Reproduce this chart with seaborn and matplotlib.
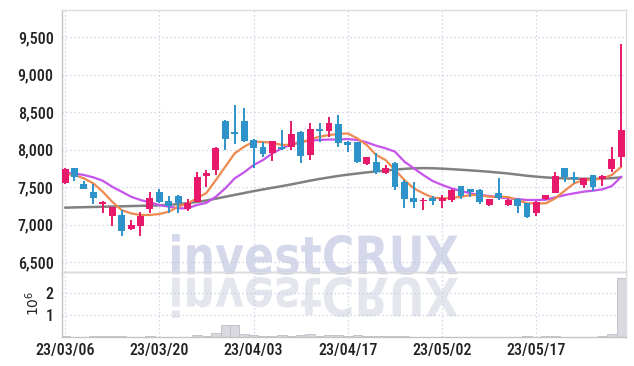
import numpy as np
import pandas as pd
import matplotlib
matplotlib.use("Agg")
import matplotlib.pyplot as plt
import seaborn as sns
import matplotlib.ticker as mticker
from matplotlib import font_manager
from matplotlib.textpath import TextPath
from matplotlib.patches import PathPatch
from matplotlib.font_manager import FontProperties
from matplotlib.transforms import Affine2D

# ---------------- data ----------------
dates = (list(pd.bdate_range("2023-03-06", "2023-05-31")
              .drop(pd.to_datetime(["2023-05-01", "2023-05-05", "2023-05-29"]))
              .strftime("%y/%m/%d")))

opens = [7553, 7749, 7544, 7433, 7270, 7109, 7125, 6936, 6984, 7203,
         7438, 7318, 7380, 7207, 7304, 7651, 7727, 8380, 8240, 8380,
         8127, 8038, 7949, 8038, 8038, 8240, 7927, 8273, 8251, 8336,
         8100, 8100, 7811, 7829, 7691, 7824, 7567, 7353, 7309, 7358,
         7318, 7327, 7513, 7469, 7460, 7260, 7416, 7264, 7344, 7282,
         7158, 7344, 7424, 7749, 7629, 7522, 7660, 7611, 7740, 7904]
highs = [7755, 7760, 7584, 7544, 7315, 7240, 7193, 7060, 7163, 7438,
         7469, 7380, 7390, 7336, 7704, 7727, 8030, 8390, 8593, 8549,
         8140, 8100, 8120, 8260, 8380, 8250, 8349, 8349, 8438, 8460,
         8110, 8105, 7905, 7949, 7790, 7830, 7590, 7571, 7357, 7380,
         7393, 7470, 7520, 7480, 7470, 7345, 7616, 7335, 7350, 7290,
         7310, 7395, 7704, 7755, 7704, 7625, 7665, 7655, 8029, 9402]
lows = [7536, 7584, 7469, 7270, 7149, 6984, 6847, 6927, 6851, 7158,
        7290, 7158, 7158, 7185, 7300, 7504, 7660, 8000, 8070, 8100,
        7755, 7904, 7851, 7993, 8000, 7816, 7860, 8104, 8171, 8029,
        7971, 7820, 7800, 7680, 7669, 7460, 7224, 7216, 7193, 7260,
        7216, 7300, 7340, 7371, 7270, 7250, 7330, 7250, 7149, 7082,
        7113, 7330, 7420, 7571, 7549, 7490, 7447, 7513, 7704, 7771]
closes = [7740, 7629, 7469, 7357, 7300, 7233, 6915, 6993, 7118, 7349,
          7304, 7247, 7291, 7282, 7638, 7687, 8024, 8140, 8207, 8113,
          8024, 7940, 8113, 8011, 8207, 7913, 8273, 8251, 8353, 8091,
          8060, 7838, 7900, 7704, 7758, 7504, 7344, 7304, 7327, 7318,
          7353, 7460, 7380, 7429, 7304, 7340, 7349, 7327, 7251, 7104,
          7304, 7389, 7647, 7629, 7611, 7616, 7504, 7647, 7873, 8260]

ma_short = [7673, 7660, 7616, 7549, 7438, 7304, 7193, 7149, 7127, 7127,
            7140, 7171, 7238, 7282, 7349, 7422, 7593, 7771, 7949, 8038,
            8104, 8100, 8091, 8060, 8064, 8091, 8136, 8171, 8193, 8207,
            8214, 8149, 8060, 7927, 7860, 7727, 7593, 7482, 7416, 7358,
            7349, 7353, 7371, 7393, 7393, 7371, 7371, 7365, 7327, 7282,
            7282, 7282, 7349, 7451, 7549, 7593, 7596, 7616, 7660, 7771]
ma_mid = [7691, 7682, 7660, 7629, 7584, 7504, 7438, 7371, 7327, 7296,
          7260, 7238, 7216, 7216, 7260, 7289, 7371, 7482, 7616, 7696,
          7793, 7860, 7949, 8016, 8069, 8104, 8118, 8127, 8133, 8133,
          8140, 8127, 8096, 8051, 8016, 7971, 7838, 7749, 7660, 7580,
          7527, 7482, 7447, 7416, 7393, 7380, 7362, 7349, 7340, 7327,
          7327, 7331, 7362, 7393, 7416, 7438, 7451, 7469, 7513, 7638]
ma_long = [7225, 7228, 7231, 7234, 7237, 7240, 7243, 7246, 7249, 7252,
           7256, 7262, 7272, 7285, 7300, 7320, 7345, 7370, 7395, 7420,
           7445, 7468, 7490, 7512, 7535, 7560, 7585, 7608, 7628, 7648,
           7665, 7680, 7695, 7708, 7720, 7732, 7742, 7750, 7752, 7750,
           7745, 7738, 7730, 7722, 7713, 7703, 7692, 7680, 7665, 7650,
           7638, 7628, 7620, 7615, 7612, 7610, 7610, 7612, 7618, 7630]

volumes = [50000, 15000, 20000, 50000, 50000, 50000, 50000, 15000, 20000, 50000,
           15000, 15000, 15000, 20000, 100000, 30000, 190000, 540000, 540000, 130000,
           80000, 30000, 30000, 80000, 30000, 80000, 130000, 30000, 80000, 80000,
           30000, 80000, 30000, 30000, 30000, 30000, 30000, 10000, 10000, 10000,
           10000, 10000, 10000, 10000, 10000, 10000, 10000, 10000, 10000, 50000,
           10000, 50000, 50000, 10000, 10000, 10000, 10000, 50000, 130000, 2650000]

price_ticks = [6500, 7000, 7500, 8000, 8500, 9000, 9500]
volume_ticks = [1e6, 2e6]
label_every = 10
watermark = "investCRUX"

# ---------------- style ----------------
sns.set_style("white")
names = {f.name for f in font_manager.fontManager.ttflist}
main_font = "DejaVu Sans"
for cand in ["Roboto Condensed", "Liberation Sans Narrow", "Open Sans Condensed",
             "DejaVu Sans Condensed", "Roboto"]:
    if cand in names:
        main_font = cand
        break
narrow = main_font != "Roboto" and main_font != "DejaVu Sans"
plt.rcParams['font.family'] = [main_font, 'DejaVu Sans']
LABEL_SIZE = 11.5 if narrow else 10.2
LABEL_WEIGHT = "medium"

UP = "#e8196b"
DOWN = "#2e93c8"
GRID = "#c8cce0"
SPINE = "#c4c4c8"
TXT = "#222222"

W, H = 634, 366
fig = plt.figure(figsize=(W / 100, H / 100), dpi=100)
fig.patch.set_facecolor("white")
L, R = 62, 626
ax = fig.add_axes([L / W, 1 - 272 / H, (R - L) / W, (272 - 10) / H])
axv = fig.add_axes([L / W, 1 - 337 / H, (R - L) / W, (337 - 272) / H], sharex=ax)
for a in (ax, axv):
    a.set_facecolor("none")

df = pd.DataFrame({"i": np.arange(len(opens)), "open": opens, "high": highs,
                   "low": lows, "close": closes, "vol": volumes,
                   "ma_s": ma_short, "ma_m": ma_mid, "ma_l": ma_long})
up = df["close"] >= df["open"]
cols = np.where(up, UP, DOWN)

# moving averages (drawn under candles)
sns.lineplot(data=df, x="i", y="ma_l", ax=ax, color="#808080", lw=1.8, zorder=2, legend=False)
sns.lineplot(data=df, x="i", y="ma_m", ax=ax, color="#c653ec", lw=1.6, zorder=2, legend=False)
sns.lineplot(data=df, x="i", y="ma_s", ax=ax, color="#ee8a50", lw=1.6, zorder=2, legend=False)

# candles
ax.vlines(df["i"], df["low"], df["high"], colors=cols, lw=1.4, zorder=3)
body_lo = np.minimum(df["open"], df["close"])
body_h = np.maximum(np.abs(df["close"] - df["open"]), 18)
ax.bar(df["i"], body_h, bottom=body_lo, width=0.74, color=cols, linewidth=0, zorder=4)

# volume
sns.barplot(data=df, x="i", y="vol", ax=axv, native_scale=True, width=1.0,
            color="#d9d9df", edgecolor="#bdbdc6", linewidth=0.6,
            saturation=1, errorbar=None, zorder=2)

# axes setup
ax.set_xlim(-0.32, 59.5)
ax.set_ylim(6367, 9860)
axv.set_ylim(0, 2.94e6)
for a in (ax, axv):
    a.set_xlabel("")
    a.set_ylabel("")

tick_pos = list(range(0, len(dates), label_every))
ax.set_xticks(tick_pos)
axv.set_xticks(tick_pos)
axv.set_xticklabels([dates[p] for p in tick_pos])
ax.tick_params(axis="x", labelbottom=False, length=0)
axv.tick_params(axis="x", length=0, pad=4, labelsize=LABEL_SIZE, labelcolor=TXT)

ax.set_yticks(price_ticks)
ax.yaxis.set_major_formatter(mticker.FuncFormatter(lambda v, p: f"{int(v):,}"))
ax.tick_params(axis="y", length=0, pad=6, labelsize=LABEL_SIZE, labelcolor=TXT)
axv.set_yticks(volume_ticks)
axv.yaxis.set_major_formatter(mticker.FuncFormatter(lambda v, p: f"{v / 1e6:.0f}"))
axv.tick_params(axis="y", length=0, pad=6, labelsize=LABEL_SIZE, labelcolor=TXT)
for lab in ax.get_yticklabels() + axv.get_yticklabels() + axv.get_xticklabels():
    lab.set_fontweight(LABEL_WEIGHT)

for a in (ax, axv):
    a.grid(True, color=GRID, linestyle=(0, (1, 2.2)), lw=0.9, zorder=0)
    a.set_axisbelow(True)
    for s in ("left", "bottom"):
        a.spines[s].set_color(SPINE)
        a.spines[s].set_linewidth(1.0)
    for s in ("top", "right"):
        a.spines[s].set_color("#dcdce0")
        a.spines[s].set_linewidth(1.0)
        a.spines[s].set_visible(True)

fig.text(33 / W, 1 - 303 / H, r"$10^6$", rotation=90, ha="center", va="center",
         fontsize=10, color=TXT)

# watermark with reflection
tp = TextPath((0, 0), watermark, prop=FontProperties(family="DejaVu Sans", weight="bold"), size=10)
ext = tp.get_extents()
x0, x1 = 172, 458
top_px, base_px = 234, 275
sx = (x1 - x0) / ext.width
sy = (base_px - top_px) / ext.height
base_disp = H - base_px
t_main = Affine2D().translate(-ext.x0, -ext.y0).scale(sx, sy).translate(x0, base_disp)
t_refl = Affine2D().translate(-ext.x0, -ext.y0).scale(sx, -sy).translate(x0, base_disp - 2)
p1 = PathPatch(tp, transform=t_main, facecolor="#d4d8ea", edgecolor="none", zorder=-1)
p2 = PathPatch(tp, transform=t_refl, facecolor="#e4e6ee", edgecolor="none", zorder=-1)
fig.patches.extend([p2, p1])

fig.savefig("out.png", dpi=100, facecolor="white")
